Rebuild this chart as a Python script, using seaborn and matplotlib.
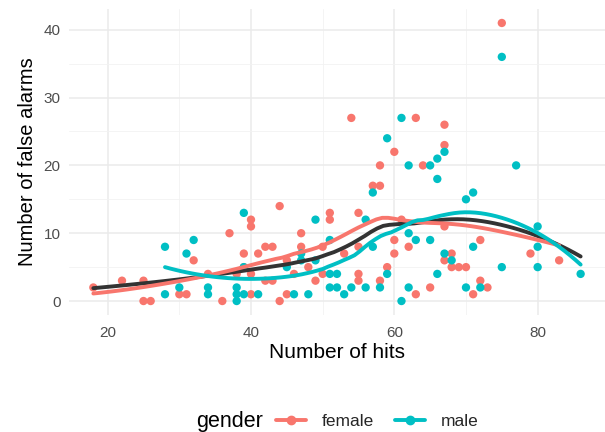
import numpy as np
import pandas as pd
import matplotlib
matplotlib.use("Agg")
import matplotlib.pyplot as plt
from matplotlib.lines import Line2D
import seaborn as sns

female_hits = [18, 22, 25, 25, 26, 30, 31, 32, 34, 36, 37, 38, 39, 39, 40, 40, 40, 40, 41, 42, 43, 42, 43,
               44, 44, 45, 45, 46, 47, 47, 48, 49, 50, 50, 51, 51, 53, 54, 55, 55, 55, 55, 57, 58, 58, 58,
               59, 60, 60, 60, 61, 62, 63, 63, 64, 65, 67, 67, 67, 67, 68, 68, 69, 70, 71, 72, 72, 73, 75,
               79, 83]
female_fa = [2, 3, 3, 0, 0, 1, 1, 6, 4, 0, 10, 4, 5, 7, 12, 11, 4, 1, 7, 8, 8, 3, 3,
             14, 0, 1, 6, 4, 10, 8, 5, 3, 8, 4, 13, 12, 7, 27, 13, 8, 4, 3, 17, 17, 20, 3,
             5, 22, 9, 7, 12, 8, 27, 1, 20, 2, 26, 23, 11, 6, 7, 5, 5, 5, 1, 9, 3, 2, 41,
             7, 6]
male_hits = [28, 28, 30, 31, 32, 34, 34, 38, 38, 38, 39, 39, 39, 41, 45, 46, 47, 47, 48, 49, 49, 51, 51,
             51, 52, 52, 53, 54, 56, 56, 57, 57, 58, 59, 59, 61, 61, 62, 62, 62, 63, 65, 65, 66, 66, 66,
             67, 67, 68, 70, 70, 71, 71, 72, 75, 75, 77, 80, 80, 80, 86]
male_fa = [8, 1, 2, 7, 9, 2, 1, 2, 1, 0, 13, 5, 1, 1, 5, 1, 7, 6, 1, 12, 6, 9, 4,
           2, 4, 2, 1, 2, 12, 2, 16, 8, 2, 24, 4, 27, 0, 20, 10, 2, 9, 20, 9, 21, 18, 4,
           22, 7, 6, 15, 2, 16, 8, 2, 36, 5, 20, 11, 8, 5, 4]
genders = ["female", "male"]
colors = {"female": "#F8766D", "male": "#00BFC4"}

df = pd.DataFrame({
    "hits": female_hits + male_hits,
    "fa": female_fa + male_fa,
    "gender": ["female"] * len(female_hits) + ["male"] * len(male_hits),
})


def loess(x, y, xs, span=0.75):
    x = np.asarray(x, float)
    y = np.asarray(y, float)
    n = len(x)
    q = int(np.floor(n * span))
    out = []
    for x0 in xs:
        d = np.abs(x - x0)
        h = np.sort(d)[q - 1]
        u = np.clip(d / h, 0, 1)
        w = (1 - u ** 3) ** 3
        X = np.vstack([np.ones(n), x - x0, (x - x0) ** 2]).T
        sw = np.sqrt(w)
        beta, *_ = np.linalg.lstsq(X * sw[:, None], y * sw, rcond=None)
        out.append(beta[0])
    return np.array(out)


curves = []
for g in genders:
    sub = df[df.gender == g]
    xs = np.linspace(sub.hits.min(), sub.hits.max(), 80)
    curves.append(pd.DataFrame({"hits": xs, "fa": loess(sub.hits, sub.fa, xs), "gender": g}))
curves = pd.concat(curves)
xs_all = np.linspace(df.hits.min(), df.hits.max(), 80)
overall = pd.DataFrame({"hits": xs_all, "fa": loess(df.hits, df.fa, xs_all)})

sns.set_theme(style="whitegrid")
plt.rcParams["font.family"] = ["Liberation Sans", "DejaVu Sans"]

fig = plt.figure(figsize=(6.05, 4.32), dpi=100)
ax = fig.add_axes([0.114, 0.271, 0.886, 0.708])

sns.scatterplot(data=df, x="hits", y="fa", hue="gender", palette=colors, s=36,
                edgecolor="none", linewidth=0, ax=ax, legend=False, zorder=3)
sns.lineplot(data=overall, x="hits", y="fa", color="#333333", linewidth=2.8, ax=ax,
             zorder=4, legend=False)
sns.lineplot(data=curves, x="hits", y="fa", hue="gender", palette=colors, linewidth=2.8,
             ax=ax, zorder=5, legend=False)

xr = df.hits.max() - df.hits.min()
yr = df.fa.max() - df.fa.min()
ax.set_xlim(df.hits.min() - 0.05 * xr, df.hits.max() + 0.05 * xr)
ax.set_ylim(df.fa.min() - 0.05 * yr, df.fa.max() + 0.05 * yr)
ax.set_xticks([20, 40, 60, 80])
ax.set_yticks([0, 10, 20, 30, 40])
ax.set_xticks([30, 50, 70], minor=True)
ax.set_yticks([5, 15, 25, 35], minor=True)
ax.grid(which="major", color="#EBEBEB", linewidth=1.1)
ax.grid(which="minor", color="#F2F2F2", linewidth=0.6)
ax.set_facecolor("white")
for s in ax.spines.values():
    s.set_visible(False)
ax.tick_params(which="both", length=0, labelsize=11, labelcolor="#4D4D4D")
ax.tick_params(axis="x", pad=8)
ax.tick_params(axis="y", pad=6)
ax.set_xlabel("Number of hits", fontsize=15, color="black", labelpad=2)
ax.set_ylabel("Number of false alarms", fontsize=14.5, color="black", labelpad=5)

handles = [Line2D([0], [0], color=colors[g], marker="o", markersize=6, linewidth=2.8)
           for g in genders]
fig.text(230 / 605, 1 - 421 / 432, "gender", fontsize=15.5, ha="center", va="center",
         color="black")
fig.legend(handles, genders, loc="center left", bbox_to_anchor=(276 / 605, 1 - 421 / 432),
           ncol=2, frameon=False, fontsize=12.5, handlelength=1.7, columnspacing=1.2,
           handletextpad=0.95, borderpad=0, borderaxespad=0)

fig.savefig("out.png", dpi=100)
